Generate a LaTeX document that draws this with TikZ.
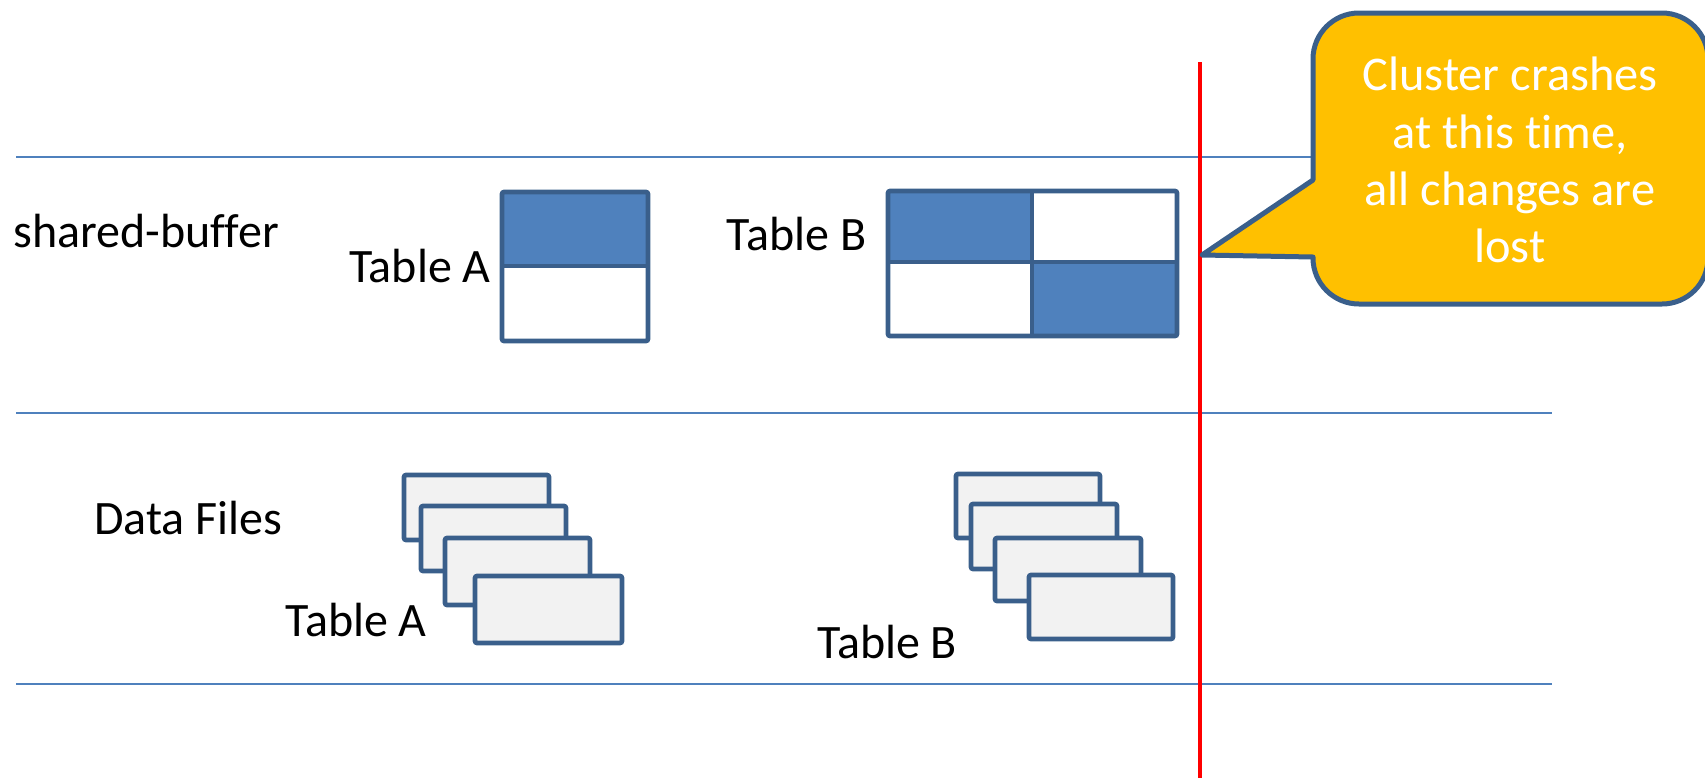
\documentclass[tikz,border=0pt]{standalone}
\usepackage{fontspec}
\setmainfont[Ligatures=NoCommon]{Carlito}
\definecolor{linebl}{HTML}{4F81BD}
\definecolor{edgebl}{HTML}{3A5F8B}
\definecolor{fillbl}{HTML}{4F81BD}
\definecolor{filegray}{HTML}{F2F2F2}
\definecolor{callfill}{HTML}{FFC000}
\tikzset{
  lane/.style={draw=linebl, line width=0.8pt},
  cellbox/.style={draw=edgebl, line width=2.3pt, rounded corners=1pt},
  filebox/.style={draw=edgebl, line width=2.3pt, fill=filegray, rounded corners=1pt},
  lbl/.style={inner sep=0pt, font=\fontsize{24}{28}\selectfont},
}
\begin{document}
\begin{tikzpicture}[x=0.5pt, y=-0.5pt]
\useasboundingbox (0,0) rectangle (1705,778);
% lanes
\draw[lane] (16,157) -- (1552,157);
\draw[lane] (16,413) -- (1552,413);
\draw[lane] (16,684) -- (1552,684);
% labels
\node[lbl, anchor=west] (sb) at (13,231) {shared-buffer};
\node[lbl, anchor=west] (df) at (94,518) {Data Files};
\node[lbl, anchor=east] (ta1) at (491,266) {Table A};
\node[lbl, anchor=east] (tb1) at (867,234) {Table B};
\node[lbl, anchor=west] (ta2) at (285,620) {Table A};
\node[lbl, anchor=west] (tb2) at (817,642) {Table B};
% shared-buffer Table A
\fill[fillbl] (502,192) rectangle (648,266);
\draw[cellbox] (502,192) rectangle (648,341);
\draw[draw=edgebl, line width=2.3pt] (502,266) -- (648,266);
% shared-buffer Table B
\fill[fillbl] (888,191) rectangle (1032,262);
\fill[fillbl] (1032,262) rectangle (1177,336);
\draw[cellbox] (888,191) rectangle (1177,336);
\draw[draw=edgebl, line width=2.3pt] (888,262) -- (1177,262);
\draw[draw=edgebl, line width=2.3pt] (1032,191) -- (1032,336);
% data files A
\draw[filebox] (404,475) rectangle (549,540);
\draw[filebox] (421,506) rectangle (566,571);
\draw[filebox] (445,538) rectangle (590,605);
\draw[filebox] (475,576) rectangle (622,643);
% data files B
\draw[filebox] (956,474) rectangle (1100,538);
\draw[filebox] (971,504) rectangle (1117,569);
\draw[filebox] (995,538) rectangle (1141,601);
\draw[filebox] (1029,575) rectangle (1173,639);
% red line
\coordinate (rtop) at (1200,62);
\coordinate (rbot) at (1200,778);
\draw[red, line width=2pt] (rtop) -- (rbot);
% callout
\coordinate (tip) at (1202,255);
\draw[draw=edgebl, line width=2.5pt, fill=callfill, line join=round]
  (tip) -- (1313,180) [rounded corners=23pt] -- (1313,13) -- (1708,13) -- (1708,304) -- (1313,304) [sharp corners] -- (1313,257) -- cycle;
\node[align=center, text=white, inner sep=0pt, font=\fontsize{24.2}{28.6}\selectfont] (callout) at (1510,160)
  {Cluster crashes\\at this time,\\all changes are\\lost};
\end{tikzpicture}
\end{document}
